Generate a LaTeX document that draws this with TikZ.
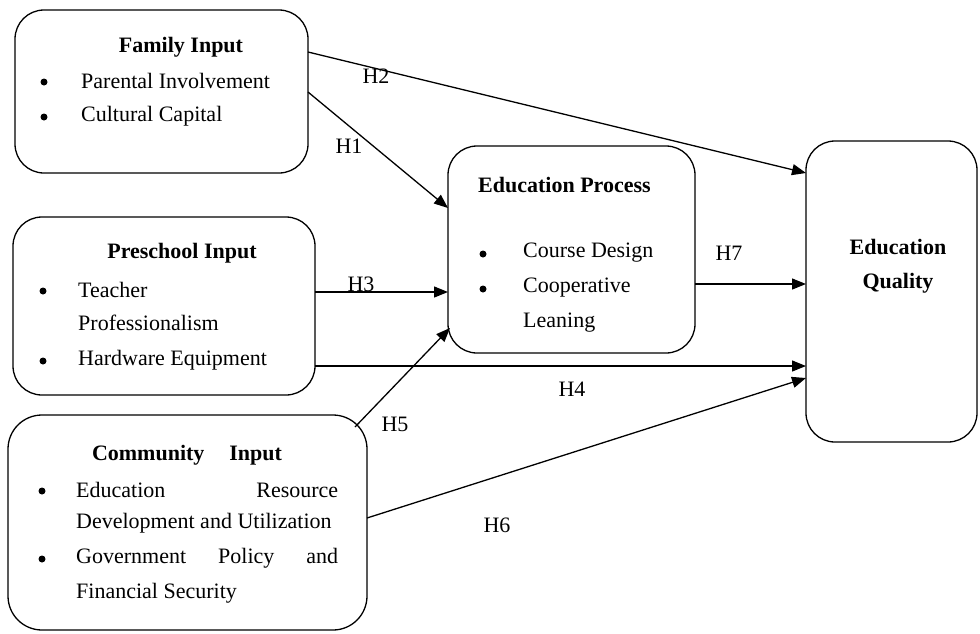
\documentclass[tikz,border=0pt]{standalone}
\usepackage{fontspec}
\setmainfont{Liberation Serif}
\usetikzlibrary{arrows.meta,calc}
\begin{document}
\begin{tikzpicture}[x=1pt,y=-1pt,
  box/.style={draw,line width=1.3pt,rounded corners=29pt,inner sep=0pt,outer sep=0pt},
  txt/.style={inner sep=0pt,anchor=west,font=\fontsize{22}{26}\selectfont},
  ttl/.style={inner sep=0pt,font=\fontsize{22}{26}\selectfont\bfseries},
  lbl/.style={inner sep=0pt,font=\fontsize{22}{26}\selectfont},
  bul/.style={circle,fill,inner sep=0pt,minimum size=7pt},
  arr/.style={line width=1.3pt,-{Triangle[length=14pt,width=11pt]}}]
\useasboundingbox (0,0) rectangle (980,633);
% boxes
\node[box,minimum width=293pt,minimum height=163pt] (fam) at (161.5,91.5) {};
\node[box,minimum width=302pt,minimum height=178pt] (pre) at (164,306) {};
\node[box,minimum width=359pt,minimum height=215pt,rounded corners=34pt] (com) at (187.5,522.5) {};
\node[box,minimum width=247pt,minimum height=207pt] (proc) at (571.5,249.5) {};
\node[box,minimum width=171pt,minimum height=301pt] (qual) at (891.5,291.5) {};
% family text
\node[ttl] (famt) at (181,47) {Family Input};
\node[bul] (fb1) at (44,82) {};
\node[txt] (f1) at (81,81) {Parental Involvement};
\node[bul] (fb2) at (44,117) {};
\node[txt] (f2) at (81,116) {Cultural Capital};
% preschool text
\node[ttl] (pret) at (182,253) {Preschool Input};
\node[bul] (pb1) at (43,291) {};
\node[txt] (p1) at (78,290) {Teacher};
\node[txt] (p2) at (78,323) {Professionalism};
\node[bul] (pb2) at (43,361) {};
\node[txt] (p3) at (78,360) {Hardware Equipment};
% community text
\node[ttl] (comt) at (187,455) {\makebox[190pt][s]{Community Input}};
\node[bul] (cb1) at (42,491) {};
\node[txt] (c1) at (76,490) {\makebox[262pt][s]{Education Resource}};
\node[txt] (c2) at (76,523) {Development and Utilization};
\node[bul] (cb2) at (42,559) {};
\node[txt] (c3) at (76,558) {\makebox[262pt][s]{Government Policy and}};
\node[txt] (c4) at (76,593) {Financial Security};
% process text
\node[ttl,anchor=west] (proct) at (478,185) {Education Process};
\node[bul] (eb1) at (483,254) {};
\node[txt] (e1) at (523,253) {Course Design};
\node[bul] (eb2) at (483,289) {};
\node[txt] (e2) at (523,288) {Cooperative};
\node[txt] (e3) at (523,323) {Leaning};
% quality text
\node[ttl,align=center] (qualt) at (898,266) {Education\\[8pt]Quality};
% connectors
\draw[arr] ($(fam.north east)+(0,42)$) -- ($(qual.north west)+(0,32)$);
\draw[arr] ($(fam.north east)+(0,82)$) -- ($(proc.north west)+(0,62)$);
\draw[arr] ($(pre.north east)+(0,75)$) -- ($(proc.north west)+(0,146)$);
\draw[arr] ($(pre.north east)+(0,149)$) -- ($(qual.north west)+(0,225)$);
\draw[arr] ($(com.north east)+(-12,12)$) -- ($(proc.south west)+(2,-25)$);
\draw[arr] ($(com.north east)+(0,103)$) -- ($(qual.north west)+(0,237)$);
\draw[arr] ($(proc.north east)+(0,138)$) -- ($(qual.north west)+(0,143)$);
% labels
\node[lbl] (h2) at (376,76) {H2};
\node[lbl] (h1) at (349,146) {H1};
\node[lbl] (h3) at (361,284) {H3};
\node[lbl] (h7) at (729,253) {H7};
\node[lbl] (h4) at (572,389) {H4};
\node[lbl] (h5) at (395,424) {H5};
\node[lbl] (h6) at (497,525) {H6};
\end{tikzpicture}
\end{document}
